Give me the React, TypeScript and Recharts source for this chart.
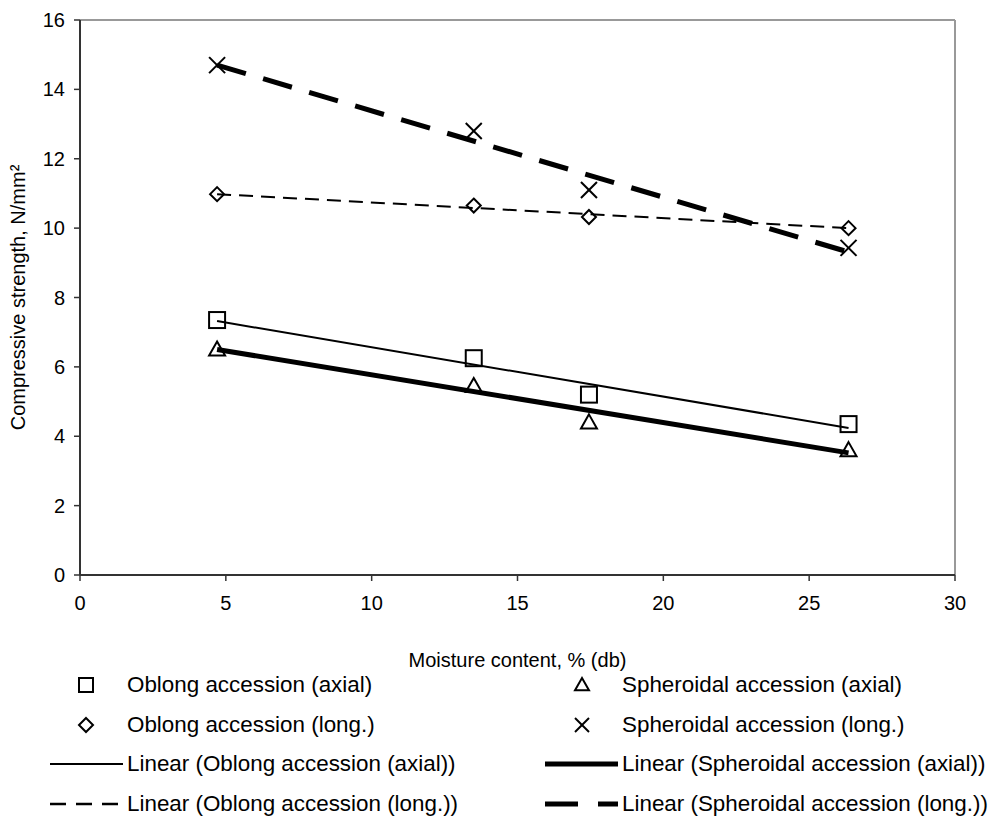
import React from 'react';
import {
  ComposedChart, XAxis, YAxis, Scatter, Line, ReferenceLine, Label
} from 'recharts';

// moisture content, % (db)
const moisture = [4.7, 13.5, 17.45, 26.35];

// compressive strength, N/mm²
const oblongAxial = [7.35, 6.25, 5.2, 4.35];
const spheroidalAxial = [6.5, 5.45, 4.4, 3.6];
const oblongLong = [10.98, 10.65, 10.32, 10.0];
const spheroidalLong = [14.7, 12.8, 11.1, 9.43];

// trendline ends
const trendX = [4.7, 26.35];
const oblongAxialTrend = [7.32, 4.24];
const spheroidalAxialTrend = [6.5, 3.52];
const oblongLongTrend = [10.98, 10.0];
const spheroidalLongTrend = [14.7, 9.31];

const xTicks = [0, 5, 10, 15, 20, 25, 30];
const yTicks = [0, 2, 4, 6, 8, 10, 12, 14, 16];

const FONT = 'Arial, "Liberation Sans", sans-serif';

const toPoints = (xs: number[], ys: number[]) => xs.map((x, i) => ({ x, y: ys[i] }));

// marker shapes
const Square = ({ cx, cy, s }: any) => (
  <rect x={cx - s / 2} y={cy - s / 2} width={s} height={s} fill="none" stroke="#000" strokeWidth={2} />
);
const Diamond = ({ cx, cy, s }: any) => (
  <polygon
    points={`${cx},${cy - s / 2} ${cx + s / 2},${cy} ${cx},${cy + s / 2} ${cx - s / 2},${cy}`}
    fill="none" stroke="#000" strokeWidth={2}
  />
);
const Triangle = ({ cx, cy, s }: any) => (
  <polygon
    points={`${cx},${cy - s * 0.5} ${cx + s / 2},${cy + s * 0.38} ${cx - s / 2},${cy + s * 0.38}`}
    fill="none" stroke="#000" strokeWidth={2}
  />
);
const Cross = ({ cx, cy, s }: any) => (
  <g stroke="#000" strokeWidth={2}>
    <line x1={cx - s / 2} y1={cy - s / 2} x2={cx + s / 2} y2={cy + s / 2} />
    <line x1={cx - s / 2} y1={cy + s / 2} x2={cx + s / 2} y2={cy - s / 2} />
  </g>
);

const shapeOf = (M: any, s: number) => (p: any) => <M cx={p.cx} cy={p.cy} s={s} />;

const legendRows = [
  [
    { label: 'Oblong accession (axial)', marker: Square },
    { label: 'Spheroidal accession (axial)', marker: Triangle },
  ],
  [
    { label: 'Oblong accession (long.)', marker: Diamond },
    { label: 'Spheroidal accession (long.)', marker: Cross },
  ],
  [
    { label: 'Linear (Oblong accession (axial))', line: { w: 2, dash: undefined } },
    { label: 'Linear (Spheroidal accession (axial))', line: { w: 5, dash: undefined } },
  ],
  [
    { label: 'Linear (Oblong accession (long.))', line: { w: 2.5, dash: '16 10' } },
    { label: 'Linear (Spheroidal accession (long.))', line: { w: 5, dash: '33 20' } },
  ],
];

const LegendItem = ({ item, left }: any) => {
  const M = item.marker;
  return (
    <div style={{ position: 'absolute', left, top: 0, height: 24, display: 'flex', alignItems: 'center' }}>
      <svg width={76} height={24} style={{ display: 'block' }}>
        {M ? (
          <M cx={item.markerX} cy={12} s={14} />
        ) : (
          <line x1={0} y1={12} x2={73} y2={12} stroke="#000" strokeWidth={item.line.w} strokeDasharray={item.line.dash} />
        )}
      </svg>
      <span style={{ whiteSpace: 'nowrap', marginLeft: 1 }}>{item.label}</span>
    </div>
  );
};

const CustomLegend = () => (
  <div style={{ position: 'absolute', left: 0, top: 673, width: 995, fontFamily: FONT, fontSize: 22.4, color: '#000' }}>
    {legendRows.map((row, r) => (
      <div key={r} style={{ position: 'relative', height: 39.5 }}>
        <LegendItem item={{ ...row[0], markerX: 36 }} left={50} />
        <LegendItem item={{ ...row[1], markerX: 37 }} left={545} />
      </div>
    ))}
  </div>
);

const YTitle = ({ viewBox }: any) => {
  const x = 20;
  const y = viewBox.y + viewBox.height / 2;
  return (
    <text x={x} y={y} transform={`rotate(-90, ${x}, ${y})`} textAnchor="middle" dominantBaseline="middle"
      fontFamily={FONT} fontSize={20} fill="#000">
      Compressive strength, N/mm²
    </text>
  );
};

export default function App() {
  const tickStyle = { fill: '#000', fontSize: 20, fontFamily: FONT };
  return (
    <div style={{ position: 'absolute', left: 0, top: 0, width: 995, height: 817, background: '#fff' }}>
      <ComposedChart width={995} height={680} margin={{ top: 20, right: 40, left: 0, bottom: 5 }}>
        <XAxis
          dataKey="x" type="number" domain={[0, 30]} ticks={xTicks} allowDataOverflow
          axisLine={{ stroke: '#333', strokeWidth: 2 }} tickLine={{ stroke: '#333', strokeWidth: 1.5 }}
          tickSize={6} tickMargin={15} tick={tickStyle} height={100}
        >
          <Label value="Moisture content, % (db)" position="insideBottom" offset={8}
            style={{ fill: '#000', fontSize: 20, fontFamily: FONT }} />
        </XAxis>
        <YAxis
          dataKey="y" type="number" domain={[0, 16]} ticks={yTicks} allowDataOverflow
          axisLine={{ stroke: '#333', strokeWidth: 2 }} tickLine={{ stroke: '#333', strokeWidth: 1.5 }}
          tickSize={6} tickMargin={9} tick={tickStyle} width={80}
        >
          <Label content={<YTitle />} />
        </YAxis>
        <ReferenceLine y={16} stroke="#999" strokeWidth={2} />
        <ReferenceLine x={30} stroke="#999" strokeWidth={2} />

        <Scatter data={toPoints(moisture, oblongAxial)} shape={shapeOf(Square, 16)} isAnimationActive={false} />
        <Scatter data={toPoints(moisture, spheroidalAxial)} shape={shapeOf(Triangle, 16)} isAnimationActive={false} />
        <Scatter data={toPoints(moisture, oblongLong)} shape={shapeOf(Diamond, 14)} isAnimationActive={false} />
        <Scatter data={toPoints(moisture, spheroidalLong)} shape={shapeOf(Cross, 16)} isAnimationActive={false} />

        <Line data={toPoints(trendX, oblongAxialTrend)} dataKey="y" type="linear" stroke="#000" strokeWidth={2}
          dot={false} activeDot={false} isAnimationActive={false} />
        <Line data={toPoints(trendX, spheroidalAxialTrend)} dataKey="y" type="linear" stroke="#000" strokeWidth={5}
          dot={false} activeDot={false} isAnimationActive={false} />
        <Line data={toPoints(trendX, oblongLongTrend)} dataKey="y" type="linear" stroke="#000" strokeWidth={2}
          strokeDasharray="14 8" dot={false} activeDot={false} isAnimationActive={false} />
        <Line data={toPoints(trendX, spheroidalLongTrend)} dataKey="y" type="linear" stroke="#000" strokeWidth={5}
          strokeDasharray="30 18" dot={false} activeDot={false} isAnimationActive={false} />
      </ComposedChart>
      <CustomLegend />
    </div>
  );
}
